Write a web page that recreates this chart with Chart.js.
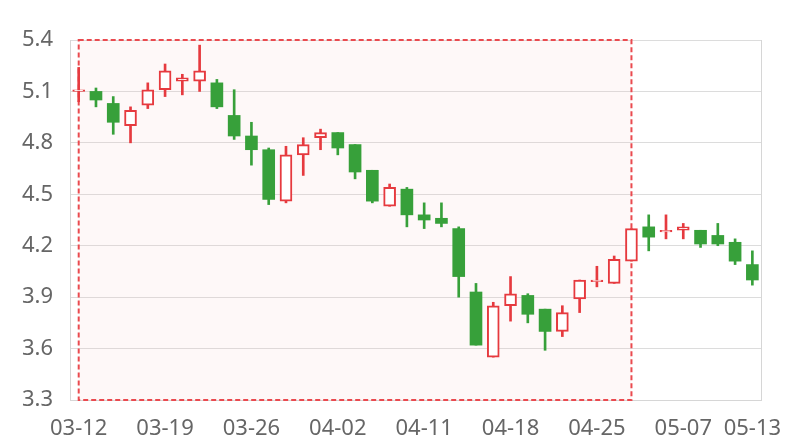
<!DOCTYPE html>
<html>
<head>
<meta charset="utf-8">
<script src="https://cdn.jsdelivr.net/npm/chart.js@4/dist/chart.umd.min.js"></script>
<style>
    html, body { margin: 0; padding: 0; background: #fff; }
    #wrap { width: 800px; height: 440px; }
</style>
</head>
<body>
<div id="wrap"><canvas id="kline" width="800" height="440"></canvas></div>
<script>
const dates = ['03-12', '03-13', '03-14', '03-15', '03-18', '03-19', '03-20', '03-21', '03-22', '03-25',
    '03-26', '03-27', '03-28', '03-29', '04-01', '04-02', '04-03', '04-08', '04-09', '04-10',
    '04-11', '04-12', '04-15', '04-16', '04-17', '04-18', '04-19', '04-22', '04-23', '04-24',
    '04-25', '04-26', '04-29', '04-30', '05-06', '05-07', '05-08', '05-09', '05-10', '05-13'];

const opens = [5.10, 5.10, 5.03, 4.90, 5.02, 5.11, 5.16, 5.16, 5.15, 4.96,
    4.84, 4.76, 4.46, 4.73, 4.83, 4.86, 4.79, 4.64, 4.43, 4.53,
    4.38, 4.36, 4.30, 3.93, 3.55, 3.85, 3.91, 3.83, 3.70, 3.89,
    3.99, 3.98, 4.11, 4.31, 4.28, 4.29, 4.29, 4.26, 4.22, 4.09];
const closes = [5.11, 5.05, 4.92, 4.99, 5.11, 5.22, 5.18, 5.22, 5.01, 4.84,
    4.76, 4.47, 4.73, 4.79, 4.86, 4.77, 4.63, 4.46, 4.54, 4.38,
    4.35, 4.33, 4.02, 3.62, 3.85, 3.92, 3.80, 3.70, 3.81, 4.00,
    4.00, 4.12, 4.30, 4.25, 4.29, 4.31, 4.21, 4.21, 4.11, 4.00];
const lows = [5.04, 5.01, 4.85, 4.80, 5.00, 5.07, 5.08, 5.10, 5.00, 4.82,
    4.67, 4.44, 4.45, 4.61, 4.76, 4.73, 4.59, 4.45, 4.43, 4.31,
    4.30, 4.31, 3.90, 3.62, 3.55, 3.76, 3.75, 3.59, 3.67, 3.81,
    3.96, 3.98, 4.11, 4.17, 4.24, 4.24, 4.19, 4.20, 4.09, 3.97];
const highs = [5.24, 5.12, 5.07, 5.01, 5.15, 5.26, 5.20, 5.37, 5.17, 5.11,
    4.92, 4.77, 4.78, 4.83, 4.88, 4.86, 4.79, 4.64, 4.56, 4.54,
    4.45, 4.45, 4.31, 3.98, 3.87, 4.02, 3.92, 3.83, 3.85, 4.00,
    4.08, 4.14, 4.30, 4.38, 4.38, 4.33, 4.29, 4.33, 4.24, 4.17];

// shaded range (first and last category of the marked area)
const markFrom = '03-12';
const markTo = '04-29';

const RED = '#e63a3f';
const GREEN = '#37a03a';

const isUp = dates.map((d, i) => closes[i] >= opens[i]);

const markArea = {
    id: 'markArea',
    beforeDatasetsDraw(chart) {
        const { ctx, chartArea, scales } = chart;
        const x1 = scales.x.getPixelForValue(dates.indexOf(markFrom));
        const x2 = scales.x.getPixelForValue(dates.indexOf(markTo));
        const y1 = scales.y.getPixelForValue(scales.y.max);
        const y2 = scales.y.getPixelForValue(scales.y.min);
        ctx.save();
        ctx.fillStyle = 'rgba(250, 200, 200, 0.13)';
        ctx.fillRect(x1, y1, x2 - x1, y2 - y1);
        ctx.setLineDash([5, 3]);
        ctx.lineWidth = 2;
        ctx.strokeStyle = '#ea4a4f';
        ctx.strokeRect(x1, y1, x2 - x1, y2 - y1);
        ctx.restore();
        // right border of the plot
        ctx.save();
        ctx.strokeStyle = '#d6d6d6';
        ctx.lineWidth = 1;
        ctx.beginPath();
        ctx.moveTo(Math.round(chartArea.right) + 0.5, chartArea.top);
        ctx.lineTo(Math.round(chartArea.right) + 0.5, chartArea.bottom);
        ctx.stroke();
        ctx.restore();
    }
};

const ctx = document.getElementById('kline').getContext('2d');

const kline = new Chart(ctx, {
    type: 'bar',
    data: {
        labels: dates,
        datasets: [{
            label: 'body',
            data: dates.map((d, i) => [opens[i], closes[i]]),
            backgroundColor: isUp.map(u => u ? '#ffffff' : GREEN),
            borderColor: isUp.map(u => u ? RED : GREEN),
            borderWidth: isUp.map(u => u ? 2 : 0),
            borderSkipped: false,
            barThickness: 12,
            grouped: false,
        }, {
            label: 'wick',
            data: dates.map((d, i) => [lows[i], highs[i]]),
            backgroundColor: isUp.map(u => u ? RED : GREEN),
            borderWidth: 0,
            barThickness: 2,
            grouped: false,
        }]
    },
    options: {
        responsive: false,
        animation: false,
        layout: {
            padding: { top: 40, right: 39, left: 5, bottom: 0 }
        },
        plugins: {
            legend: { display: false },
            tooltip: { enabled: false },
        },
        scales: {
            x: {
                grid: { display: false, drawTicks: false },
                border: { display: true, color: '#d6d6d6' },
                afterFit: s => { s.height = 40; },
                ticks: {
                    autoSkip: false,
                    maxRotation: 0,
                    padding: 16,
                    color: '#666666',
                    font: { family: 'Noto Sans', size: 22 },
                    callback: (v, i) => (i % 5 === 0 || i === dates.length - 1) ? dates[i] : ''
                }
            },
            y: {
                min: 3.3,
                max: 5.4,
                grid: { color: '#dcdcdc', drawTicks: false },
                border: { display: true, color: '#d6d6d6' },
                ticks: {
                    stepSize: 0.3,
                    padding: 17,
                    color: '#666666',
                    font: { family: 'Noto Sans', size: 22 },
                    callback: v => Number(v).toFixed(1)
                }
            }
        }
    },
    plugins: [markArea]
});
</script>
</body>
</html>
